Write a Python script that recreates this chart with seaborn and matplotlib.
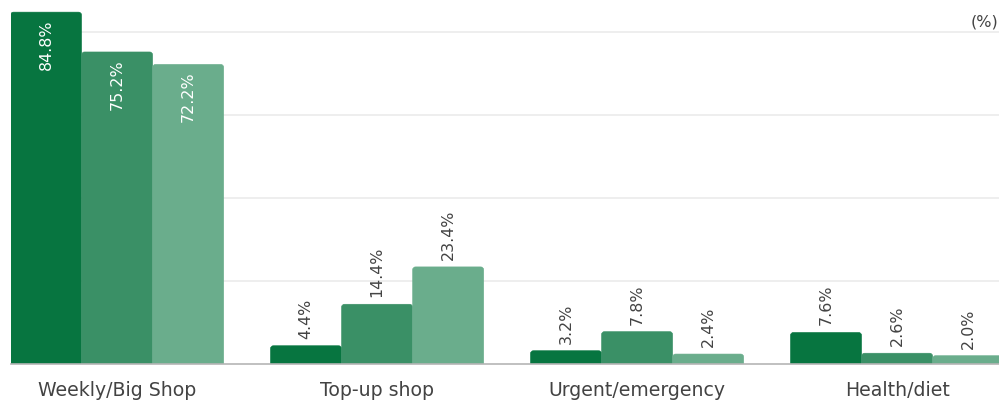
import matplotlib
matplotlib.use("Agg")
import matplotlib.pyplot as plt
from matplotlib.patches import FancyBboxPatch
import seaborn as sns
import pandas as pd

categories = ["Weekly/Big Shop", "Top-up shop", "Urgent/emergency", "Health/diet"]
series_names = ["Wave 1", "Wave 2", "Wave 3"]
wave1 = [84.8, 4.4, 3.2, 7.6]
wave2 = [75.2, 14.4, 7.8, 2.6]
wave3 = [72.2, 23.4, 2.4, 2.0]
colors = ["#077540", "#3a9066", "#6aad8c"]

rows = []
for name, vals in zip(series_names, [wave1, wave2, wave3]):
    for cat, v in zip(categories, vals):
        rows.append({"category": cat, "series": name, "value": v})
df = pd.DataFrame(rows)

sns.set_theme(style="white")
plt.rcParams["font.family"] = ["DejaVu Sans"]

text_color = "#434343"

fig = plt.figure(figsize=(9.99, 4.02), dpi=100)
ax = fig.add_axes([11 / 999, 1 - 365 / 402, 1 - 11 / 999, (365 - 12.3) / 402])

sns.barplot(data=df, x="category", y="value", hue="series", order=categories,
            hue_order=series_names, palette=colors, width=0.82, gap=0,
            saturation=1, legend=False, ax=ax, zorder=3)

ax.set_ylim(0, 85)
ax.set_xlim(-0.408, 3.392)
ax.set_yticks([20, 40, 60, 80])
ax.yaxis.grid(True, color="#ebebeb", linewidth=1.2, zorder=0)
ax.set_axisbelow(True)
ax.tick_params(axis="y", left=False, labelleft=False)
ax.tick_params(axis="x", bottom=False, length=0, labelsize=13.6,
               labelcolor=text_color, pad=11.5)
ax.set_xlabel("")
ax.set_ylabel("")
for side in ["left", "right", "top"]:
    ax.spines[side].set_visible(False)
ax.spines["bottom"].set_color("#b5b5b5")
ax.spines["bottom"].set_linewidth(1.2)
ax.spines["bottom"].set_zorder(5)

# pixel-to-data scales for rounded corners and label offsets
fig.canvas.draw()
bbox = ax.get_window_extent()
x_per_px = (ax.get_xlim()[1] - ax.get_xlim()[0]) / bbox.width
y_per_px = (ax.get_ylim()[1] - ax.get_ylim()[0]) / bbox.height
r_px = 3.0

bars = list(ax.patches)
for bar in bars:
    x0, w, h = bar.get_x(), bar.get_width(), bar.get_height()
    color = bar.get_facecolor()
    bar.set_visible(False)
    rounded = FancyBboxPatch((x0, -10), w, h + 10,
                             boxstyle=f"round,pad=0,rounding_size={r_px * x_per_px}",
                             mutation_aspect=y_per_px / x_per_px,
                             facecolor=color, edgecolor=color, linewidth=0.4,
                             zorder=3, clip_on=True)
    ax.add_patch(rounded)
    cx = x0 + w / 2
    label = f"{h:.1f}%"
    if h > 50:
        ax.text(cx, h - 6 * y_per_px, label, rotation=90, ha="center", va="top",
                color="white", fontsize=11.4, zorder=6)
    else:
        ax.text(cx, h + 8 * y_per_px, label, rotation=90, ha="center", va="bottom",
                color=text_color, fontsize=11.4, zorder=6)

fig.text(0.999, 1 - 22 / 402, "(%)", ha="right", va="center", fontsize=11.5,
         color=text_color)

fig.savefig("out.png", dpi=100)
